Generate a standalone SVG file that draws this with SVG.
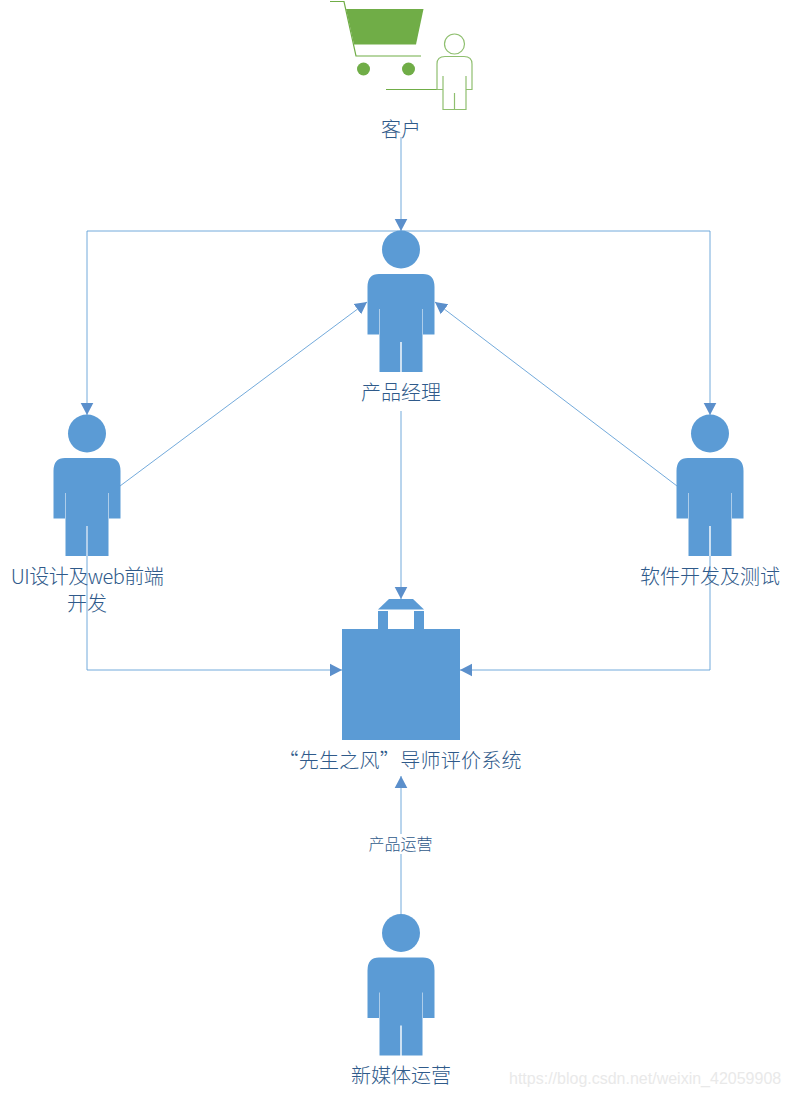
<svg xmlns="http://www.w3.org/2000/svg" width="790" height="1097" viewBox="0 0 790 1097">
<style>
.lbl{font-family:"Noto Sans CJK SC","Liberation Sans",sans-serif;font-size:20px;font-weight:300;fill:#2f5a8a;text-anchor:middle}
.small{font-size:16px}
.wm{font-family:"Liberation Sans",sans-serif;font-size:16px;fill:#e9e9e9}
.c{fill:none;stroke:#5b9bd5;stroke-width:1;stroke-opacity:.85}
.blue{fill:#5b9bd5}
.gl{fill:none;stroke:#70ad47;stroke-width:1.2}
</style>
<defs>
<marker id="arr" markerUnits="userSpaceOnUse" markerWidth="14" markerHeight="14" refX="12" refY="7" orient="auto"><path d="M0,0.7L12,7L0,13.300Z" fill="#5b8fcb"/></marker>
<g id="person">
<circle cx="0" cy="18.5" r="19" class="blue"/>
<path class="blue" d="M-22,43H22Q33.500,43 33.500,56V103.500H22V78H21.500V141H0.700V111H-0.700V141H-21.500V78H-22V103.500H-33.500V56Q-33.500,43 -22,43Z"/>
</g>
</defs>
<g id="connectors">
<path class="c" marker-end="url(#arr)" d="M401,137V231"/>
<path class="c" marker-end="url(#arr)" d="M401,231H87V415"/>
<path class="c" marker-end="url(#arr)" d="M401,231H710V415"/>
<path class="c" marker-end="url(#arr)" d="M120,486L367,302"/>
<path class="c" marker-end="url(#arr)" d="M677,486L435,302"/>
<path class="c" marker-end="url(#arr)" d="M401,411V599"/>
<path class="c" marker-end="url(#arr)" d="M87,556V670H342"/>
<path class="c" marker-end="url(#arr)" d="M710,556V670H460"/>
<path class="c" marker-end="url(#arr)" d="M401,915V776"/>
</g>
<g id="customer">
<path fill="#70ad47" d="M346,9H423.500L416,44.500H354Z"/>
<path class="gl" d="M330,1.500H344L356,56H421"/>
<circle cx="363.500" cy="69" r="6.500" fill="#70ad47"/>
<circle cx="408.500" cy="69" r="6.500" fill="#70ad47"/>
<path class="gl" d="M386,89.500H437"/>
<circle cx="454.500" cy="44" r="10" fill="#fff" stroke="#8fbf6f" stroke-width="1.200"/>
<path fill="none" stroke="#8fbf6f" stroke-width="1.200" d="M443,76V109.500H466V76M454.500,93V109.500M443,89.500H437V64Q437,56.500 445,56.500H464Q472,56.500 472,64V89.500H466"/>
<text class="lbl" x="401" y="137">客户</text>
</g>
<g id="pm">
<use href="#person" x="401" y="231"/>
<text class="lbl" x="401" y="400">产品经理</text>
</g>
<g id="ui">
<use href="#person" x="87" y="415"/>
<path d="M87,526V556" stroke="#a9c9e8" stroke-width="1.500"/>
<text class="lbl" x="87" y="584" letter-spacing="-0.5">UI设计及web前端</text>
<text class="lbl" x="87" y="611">开发</text>
</g>
<g id="dev">
<use href="#person" x="710" y="415"/>
<text class="lbl" x="710" y="584">软件开发及测试</text>
</g>
<g id="system">
<path class="blue" d="M342,629H378V611H388V629H414V611H424V629H460V740H342Z"/>
<path class="blue" d="M378,609.500L389,599H413L424,609.500Z"/>
<text class="lbl" x="400" y="768" textLength="243">“先生之风”导师评价系统</text>
</g>
<g id="ops-label">
<rect x="367" y="834" width="68" height="20" fill="#fff"/>
<text class="lbl small" x="400.500" y="850">产品运营</text>
</g>
<g id="ops">
<use href="#person" x="401" y="914.500"/>
<text class="lbl" x="401" y="1083">新媒体运营</text>
</g>
<text class="wm" x="509" y="1084">https://blog.csdn.net/weixin_42059908</text>
</svg>
